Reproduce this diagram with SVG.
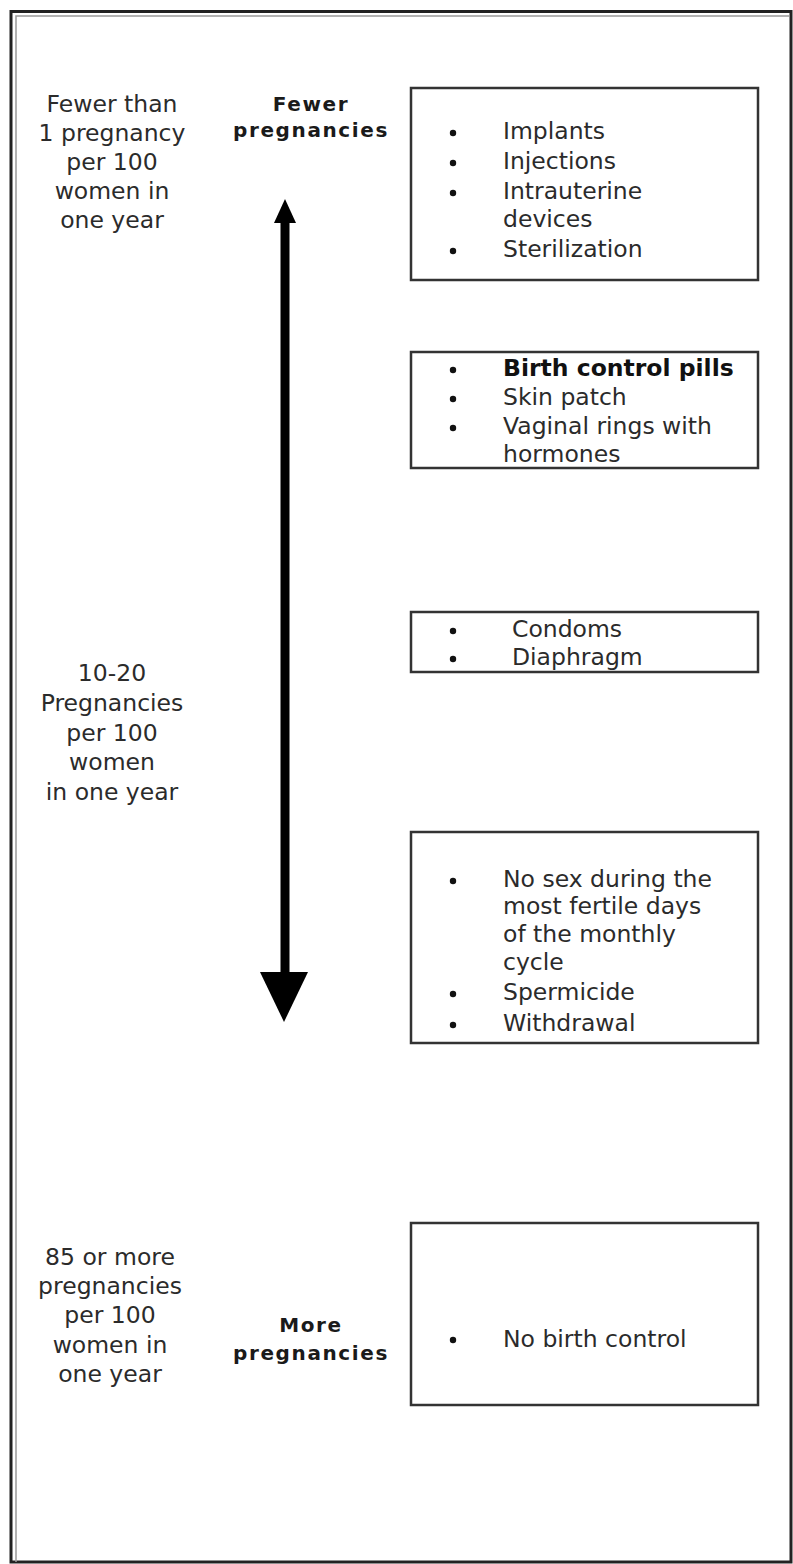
<svg xmlns="http://www.w3.org/2000/svg" width="793" height="1564" viewBox="0 0 793 1564">
<style>
.t{font-family:"DejaVu Sans",Verdana,sans-serif;font-size:23.5px;fill:#2b2b2b}
.c{text-anchor:middle}
.b{font-family:"DejaVu Sans",Verdana,sans-serif;font-size:20px;font-weight:bold;fill:#1a1a1a;text-anchor:middle;letter-spacing:1.6px}
.bb{font-weight:bold;fill:#111}
.box{fill:none;stroke:#333;stroke-width:2.5}
.dot{fill:#111}
</style>
<rect width="793" height="1564" fill="#fff"/>
<g id="frame">
<path d="M11,1562 V11.5 H791 V1562 Z" fill="none" stroke="#222" stroke-width="3"/>
<path d="M16,1562 V16 H789" fill="none" stroke="#999" stroke-width="1.5"/>
</g>
<g id="label-top">
<text class="t c" x="112" y="112">Fewer than</text>
<text class="t c" x="112" y="141">1 pregnancy</text>
<text class="t c" x="112" y="170">per 100</text>
<text class="t c" x="112" y="199">women in</text>
<text class="t c" x="112" y="228">one year</text>
</g>
<g id="label-mid">
<text class="t c" x="112" y="681">10-20</text>
<text class="t c" x="112" y="711">Pregnancies</text>
<text class="t c" x="112" y="741">per 100</text>
<text class="t c" x="112" y="770">women</text>
<text class="t c" x="112" y="800">in one year</text>
</g>
<g id="label-bottom">
<text class="t c" x="110" y="1265">85 or more</text>
<text class="t c" x="110" y="1294">pregnancies</text>
<text class="t c" x="110" y="1323">per 100</text>
<text class="t c" x="110" y="1353">women in</text>
<text class="t c" x="110" y="1382">one year</text>
</g>
<g id="fewer">
<text class="b" x="311" y="111">Fewer</text>
<text class="b" x="311" y="137">pregnancies</text>
</g>
<g id="more">
<text class="b" x="311" y="1332">More</text>
<text class="b" x="311" y="1360">pregnancies</text>
</g>
<g id="connectors">
<line x1="285" y1="218" x2="285" y2="976" stroke="#000" stroke-width="9"/>
<polygon points="285,199 274,223 296,223" fill="#000"/>
<polygon points="260,972 308,972 284,1022" fill="#000"/>
</g>
<g id="box1">
<rect class="box" x="411" y="88" width="347" height="192"/>
<circle class="dot" cx="453" cy="133" r="3.2"/>
<circle class="dot" cx="453" cy="163" r="3.2"/>
<circle class="dot" cx="453" cy="193" r="3.2"/>
<circle class="dot" cx="453" cy="251" r="3.2"/>
<text class="t" x="503" y="139">Implants</text>
<text class="t" x="503" y="169">Injections</text>
<text class="t" x="503" y="199">Intrauterine</text>
<text class="t" x="503" y="227">devices</text>
<text class="t" x="503" y="257">Sterilization</text>
</g>
<g id="box2">
<rect class="box" x="411" y="352" width="347" height="116"/>
<circle class="dot" cx="453" cy="370" r="3.2"/>
<circle class="dot" cx="453" cy="399" r="3.2"/>
<circle class="dot" cx="453" cy="428" r="3.2"/>
<text class="t bb" x="503" y="376">Birth control pills</text>
<text class="t" x="503" y="405">Skin patch</text>
<text class="t" x="503" y="434">Vaginal rings with</text>
<text class="t" x="503" y="462">hormones</text>
</g>
<g id="box3">
<rect class="box" x="411" y="612" width="347" height="60"/>
<circle class="dot" cx="453" cy="631" r="3.2"/>
<circle class="dot" cx="453" cy="659" r="3.2"/>
<text class="t" x="512" y="637">Condoms</text>
<text class="t" x="512" y="665">Diaphragm</text>
</g>
<g id="box4">
<rect class="box" x="411" y="832" width="347" height="211"/>
<circle class="dot" cx="453" cy="881" r="3.2"/>
<circle class="dot" cx="453" cy="994" r="3.2"/>
<circle class="dot" cx="453" cy="1025" r="3.2"/>
<text class="t" x="503" y="887">No sex during the</text>
<text class="t" x="503" y="914">most fertile days</text>
<text class="t" x="503" y="942">of the monthly</text>
<text class="t" x="503" y="970">cycle</text>
<text class="t" x="503" y="1000">Spermicide</text>
<text class="t" x="503" y="1031">Withdrawal</text>
</g>
<g id="box5">
<rect class="box" x="411" y="1223" width="347" height="182"/>
<circle class="dot" cx="453" cy="1340" r="3.2"/>
<text class="t" x="503" y="1347">No birth control</text>
</g>
</svg>
